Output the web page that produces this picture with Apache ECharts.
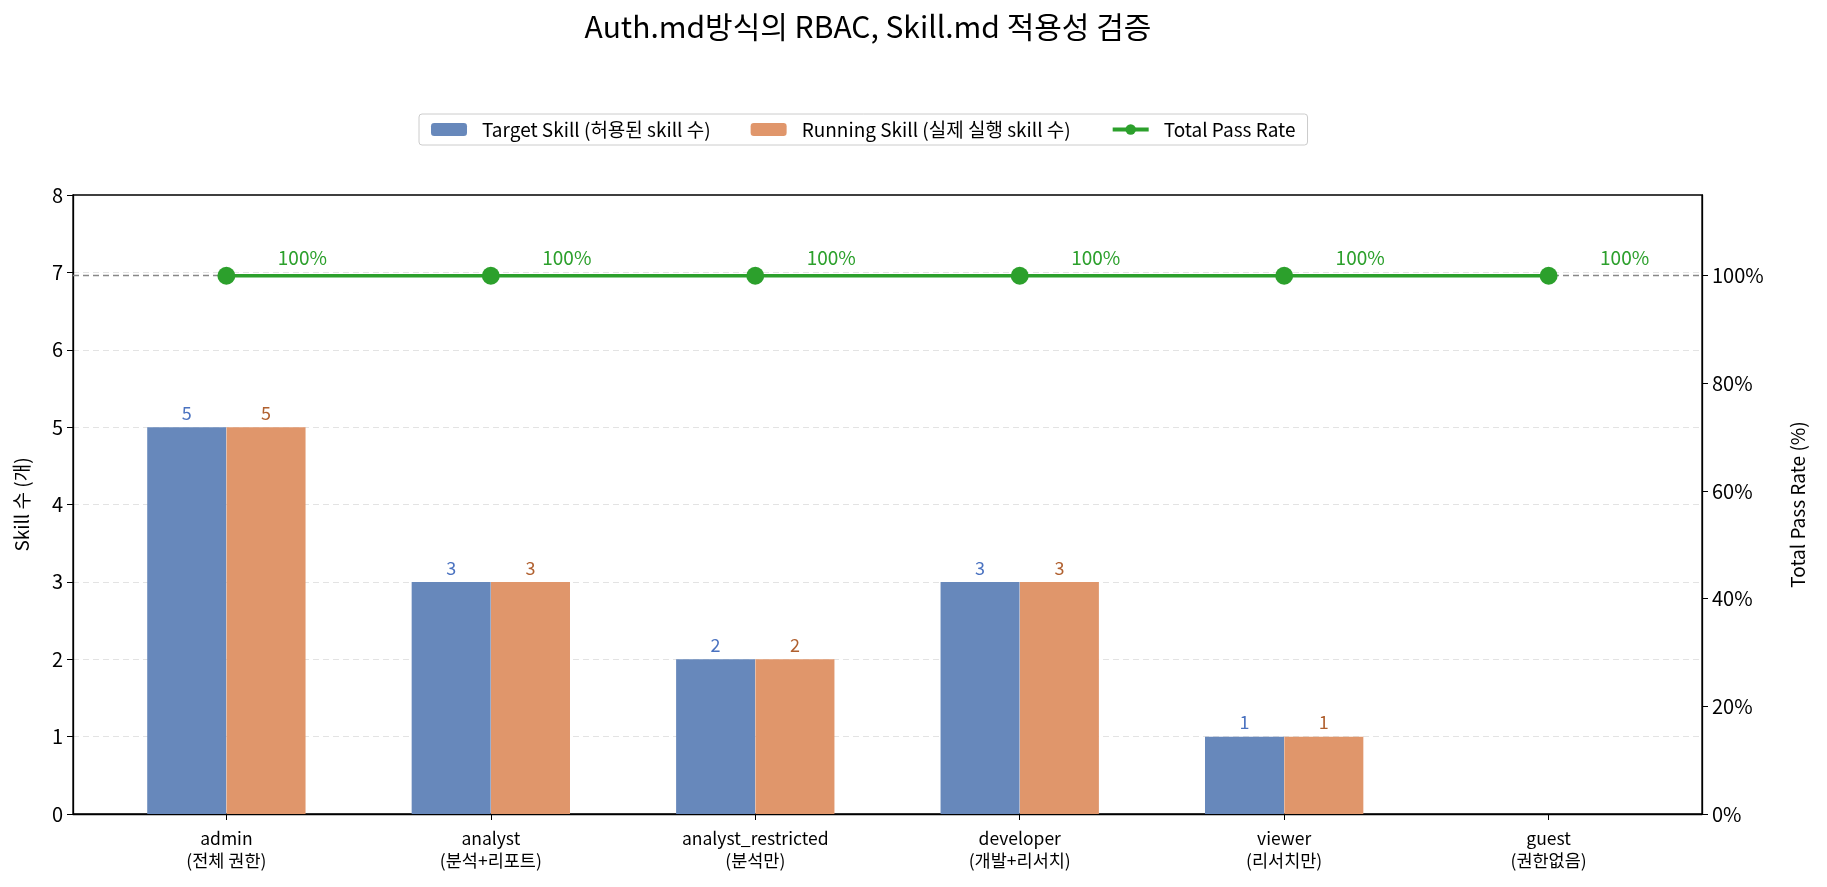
<!DOCTYPE html>
<html>
<head>
<meta charset="utf-8">
<title>Auth.md RBAC</title>
<script src="https://cdn.jsdelivr.net/npm/echarts@6/dist/echarts.min.js"></script>
<style>
  html, body { margin: 0; padding: 0; background: #fff; }
  #main { width: 1827px; height: 887px; }
</style>
</head>
<body>
<div id="main"></div>
<script>
// 데이터
var categories = ['admin\n(전체 권한)', 'analyst\n(분석+리포트)', 'analyst_restricted\n(분석만)',
    'developer\n(개발+리서치)', 'viewer\n(리서치만)', 'guest\n(권한없음)'];
var targetSkill = [5, 3, 2, 3, 1, 0];
var runningSkill = [5, 3, 2, 3, 1, 0];
var passRate = [100, 100, 100, 100, 100, 100];
var rightTicks = [0, 20, 40, 60, 80, 100];

var FONT = '"Noto Sans CJK KR", "Noto Sans", sans-serif';
var myChart = echarts.init(document.getElementById('main'));

var barOffset = 0.15;

var option = {
    backgroundColor: '#fff',
    textStyle: {fontFamily: FONT},
    title: {
        text: 'Auth.md방식의 RBAC, Skill.md 적용성 검증',
        left: 863,
        top: 7,
        textAlign: 'center',
        textStyle: {fontFamily: FONT, fontSize: 30, fontWeight: 'normal', color: '#000'}
    },
    legend: {
        left: 419,
        top: 114,
        padding: [6, 12],
        itemGap: 40,
        itemWidth: 36,
        itemHeight: 13,
        borderColor: '#cccccc',
        borderWidth: 1,
        borderRadius: 3,
        textStyle: {fontFamily: FONT, fontSize: 19, color: '#000', padding: [0, 0, 0, 10]},
        data: [
            'Target Skill (허용된 skill 수)',
            'Running Skill (실제 실행 skill 수)',
            {name: 'Total Pass Rate', lineStyle: {width: 4}}
        ]
    },
    grid: {
        left: 73,
        right: 125,
        top: 195,
        bottom: 73,
        show: true,
        borderColor: '#000',
        borderWidth: 1.3,
        containLabel: false
    },
    xAxis: {
        type: 'value',
        min: -0.58,
        max: 5.58,
        splitLine: {show: false},
        axisLine: {show: true, onZero: false, lineStyle: {color: '#000', width: 1.3}},
        axisTick: {show: true, length: 6, lineStyle: {color: '#000'}, customValues: [0, 1, 2, 3, 4, 5]},
        axisLabel: {
            customValues: [0, 1, 2, 3, 4, 5],
            margin: 13,
            fontFamily: FONT,
            fontSize: 17.5,
            lineHeight: 22,
            color: '#000',
            formatter: function (v) {
                return categories[Math.round(v)];
            }
        }
    },
    yAxis: [{
        type: 'value',
        min: 0,
        max: 8,
        interval: 1,
        name: 'Skill 수 (개)',
        nameLocation: 'middle',
        nameGap: 42,
        nameTextStyle: {fontFamily: FONT, fontSize: 19, color: '#000'},
        axisLine: {show: true, onZero: false, lineStyle: {color: '#000', width: 1.3}},
        axisTick: {show: true, length: 6, lineStyle: {color: '#000'}},
        axisLabel: {fontFamily: FONT, fontSize: 20, color: '#000', margin: 10},
        splitLine: {
            show: true, showMinLine: false, showMaxLine: false,
            lineStyle: {color: '#e3e3e3', type: [6, 4], width: 1}
        }
    }, {
        type: 'value',
        min: 0,
        max: 115,
        interval: 20,
        name: 'Total Pass Rate (%)',
        nameLocation: 'middle',
        nameGap: 86,
        nameTextStyle: {fontFamily: FONT, fontSize: 19, color: '#000'},
        axisLine: {show: true, onZero: false, lineStyle: {color: '#000', width: 1.3}},
        axisTick: {show: true, length: 6, lineStyle: {color: '#000'}, customValues: rightTicks},
        axisLabel: {
            customValues: rightTicks,
            fontFamily: FONT, fontSize: 20, color: '#000', margin: 10,
            formatter: function (v) { return v + '%'; }
        },
        splitLine: {show: false}
    }],
    series: [{
        name: 'Target Skill (허용된 skill 수)',
        type: 'bar',
        barWidth: 79,
        barGap: '-100%',
        itemStyle: {color: '#6788bb'},
        label: {
            show: true,
            position: 'top',
            distance: 5,
            fontFamily: FONT,
            fontSize: 18,
            color: '#4a72c0',
            formatter: function (p) { return p.value[1] > 0 ? p.value[1] : ''; }
        },
        data: targetSkill.map(function (v, i) { return [i - barOffset, v]; })
    }, {
        name: 'Running Skill (실제 실행 skill 수)',
        type: 'bar',
        barWidth: 79,
        barGap: '-100%',
        itemStyle: {color: '#e0966b'},
        label: {
            show: true,
            position: 'top',
            distance: 5,
            fontFamily: FONT,
            fontSize: 18,
            color: '#b0602f',
            formatter: function (p) { return p.value[1] > 0 ? p.value[1] : ''; }
        },
        data: runningSkill.map(function (v, i) { return [i + barOffset, v]; })
    }, {
        name: 'Total Pass Rate',
        type: 'line',
        yAxisIndex: 1,
        symbol: 'circle',
        symbolSize: 18,
        lineStyle: {color: '#2ca02c', width: 3.5},
        itemStyle: {color: '#2ca02c'},
        label: {
            show: true,
            position: 'top',
            distance: 0,
            offset: [76, 1],
            fontFamily: FONT,
            fontSize: 19,
            color: '#2ca02c',
            formatter: function (p) { return p.value[1] + '%'; }
        },
        markLine: {
            silent: true,
            symbol: 'none',
            label: {show: false},
            lineStyle: {color: '#888888', type: [6, 4], width: 1.3},
            data: [{yAxis: 100}]
        },
        z: 5,
        data: passRate.map(function (v, i) { return [i, v]; })
    }]
};

myChart.setOption(option);
</script>
</body>
</html>
